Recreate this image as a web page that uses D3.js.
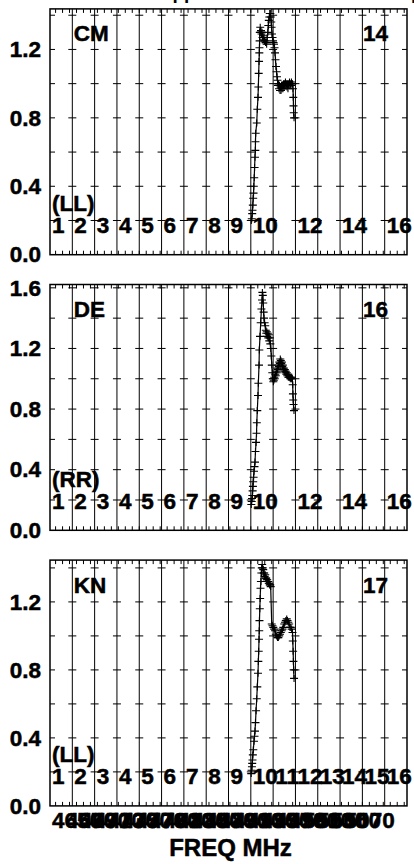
<!DOCTYPE html>
<html><head><meta charset="utf-8">
<script src="https://cdn.jsdelivr.net/npm/d3@7"></script>
<style>
html,body{margin:0;padding:0;background:#fff;overflow:hidden}
text{font-family:"Liberation Sans",Arial,Helvetica,sans-serif;font-weight:bold;fill:#000;stroke:#000;stroke-width:0.5px}
text.title{stroke:none}
</style>
</head><body><svg id="c" width="414" height="864"></svg>
<script>
// ---------------- data ----------------
const titleText = "Solutions applied to autocorrelation spectra";
const xAxisTitle = "FREQ MHz";
const panelNames = ["CM", "DE", "KN"];
const panelNumbers = ["14", "16", "17"];
const polarizations = ["(LL)", "(RR)", "(LL)"];
const ifStartMHz = 4612;
const ifWidthMHz = 32;
const ifCount = 16;
const freqTickLabels = [4650, 4670, 4690, 4710, 4730, 4750, 4770, 4790, 4810, 4830, 4850, 4870, 4890, 4910, 4930, 4950, 4970, 4990, 5010, 5030, 5050, 5070];
const yRanges = [1.437, 1.622, 1.446];
const yTickLabels = [[0, 0.4, 0.8, 1.2], [0, 0.4, 0.8, 1.2, 1.6], [0, 0.4, 0.8, 1.2]];
const ifLabels = [
  [1, 2, 3, 4, 5, 6, 7, 8, 9, 10, 12, 14, 16],
  [1, 2, 3, 4, 5, 6, 7, 8, 9, 10, 12, 14, 16],
  [1, 2, 3, 4, 5, 6, 7, 8, 9, 10, 11, 12, 13, 14, 15, 16]
];

const freqCM = [4900.7,4901.4,4902.0,4902.4,4902.9,4903.4,4903.9,4904.3,4904.9,4905.4,
  4906.0,4906.5,4906.7,4907.0,4908.5,4909.3,4910.3,4910.8,4911.3,4911.8,
  4912.2,4912.4,4912.6,4912.9,4913.5,4914.1,4914.6,4915.3,4916.1,4916.8,
  4917.5,4918.2,4918.9,4919.6,4920.4,4921.1,4921.8,4922.7,4923.5,4924.4,
  4925.1,4925.8,4926.5,4927.2,4928.0,4928.7,4929.3,4929.8,4930.4,4931.1,
  4931.8,4932.6,4933.3,4934.0,4934.7,4935.4,4936.1,4936.9,4937.6,4938.3,
  4939.0,4939.7,4940.4,4941.1,4941.9,4942.6,4943.3,4944.0,4944.7,4945.4,
  4946.1,4946.9,4947.6,4948.3,4949.0,4949.7,4950.4,4951.2,4951.9,4952.6,
  4953.3,4954.0,4954.7,4955.5,4956.2,4956.9,4957.6,4958.3,4959.0,4959.8,
  4960.5,4960.9,4961.2,4961.5,4962.0];
const ampCM = [0.20,0.21,0.24,0.26,0.29,0.33,0.36,0.40,0.45,0.51,
  0.57,0.61,0.66,0.71,0.77,0.85,0.92,0.98,1.06,1.13,
  1.18,1.21,1.25,1.30,1.33,1.30,1.31,1.29,1.30,1.27,
  1.28,1.26,1.27,1.25,1.25,1.24,1.24,1.23,1.27,1.30,
  1.34,1.37,1.39,1.41,1.41,1.39,1.36,1.33,1.29,1.27,
  1.25,1.24,1.23,1.21,1.18,1.14,1.10,1.07,1.04,1.02,
  0.99,1.00,0.97,0.99,0.96,0.98,0.96,0.99,0.97,0.99,
  0.97,1.00,0.98,1.00,0.99,1.01,0.99,1.00,0.98,1.00,
  0.97,1.00,0.99,1.01,0.99,1.00,0.99,1.01,1.00,1.00,
  0.97,0.92,0.87,0.83,0.80];

const freqDE = [4900.7,4901.3,4901.7,4902.2,4902.6,4903.0,4903.4,4904.0,4904.6,4905.3,
  4906.0,4906.7,4907.5,4908.2,4908.6,4909.3,4910.3,4910.8,4911.8,4912.2,
  4913.2,4914.2,4915.2,4916.1,4916.6,4917.2,4917.8,4918.4,4918.9,4919.8,
  4920.7,4921.5,4922.2,4922.9,4923.7,4924.4,4925.1,4925.8,4926.5,4927.2,
  4928.0,4928.7,4929.4,4930.1,4930.8,4931.5,4932.3,4933.0,4933.7,4934.4,
  4935.1,4935.8,4936.6,4937.3,4938.0,4938.7,4939.4,4940.2,4940.9,4941.6,
  4942.3,4943.0,4943.7,4944.5,4945.2,4945.9,4946.6,4947.3,4948.0,4948.8,
  4949.5,4950.2,4950.9,4951.6,4952.3,4953.1,4953.8,4954.5,4955.2,4955.9,
  4956.6,4957.4,4958.1,4958.8,4959.5,4960.1,4960.4,4960.8,4961.2,4961.9];
const ampDE = [0.17,0.19,0.21,0.23,0.26,0.29,0.32,0.35,0.39,0.42,
  0.45,0.52,0.58,0.64,0.71,0.79,0.89,0.97,1.09,1.19,
  1.28,1.37,1.46,1.52,1.57,1.55,1.50,1.44,1.40,1.37,
  1.35,1.32,1.30,1.31,1.28,1.30,1.27,1.29,1.25,1.27,
  1.23,1.20,1.15,1.09,1.04,1.00,0.98,0.99,1.01,1.00,
  1.03,1.02,1.05,1.04,1.07,1.06,1.09,1.08,1.11,1.10,
  1.13,1.12,1.10,1.11,1.08,1.09,1.06,1.07,1.05,1.06,
  1.04,1.05,1.03,1.04,1.02,1.03,1.01,1.02,1.01,1.01,
  1.00,1.01,1.00,1.01,1.00,0.96,0.90,0.86,0.83,0.79];

const freqKN = [4900.6,4901.1,4901.6,4902.0,4902.4,4902.9,4903.6,4904.6,4905.3,4906.0,
  4906.7,4907.5,4908.5,4909.3,4910.3,4910.8,4911.3,4911.8,4912.1,4912.4,
  4912.9,4913.4,4913.9,4914.5,4915.1,4915.7,4916.3,4917.1,4917.8,4918.5,
  4919.2,4919.9,4920.7,4921.4,4922.1,4922.8,4923.5,4924.2,4925.0,4925.7,
  4926.4,4927.1,4927.8,4928.5,
  4930.0,4931.1,4932.3,4933.6,4934.7,4935.9,4937.1,4938.3,4939.5,4940.7,
  4941.9,4943.0,4944.3,4945.4,4946.6,4947.9,4949.0,4950.2,4951.5,4952.6,
  4953.8,4955.0,4956.2,4957.4,4958.6,4959.8,4960.2,4960.7,4961.1,4961.5,
  4962.0];
const ampKN = [0.19,0.21,0.23,0.25,0.27,0.30,0.33,0.38,0.41,0.44,
  0.49,0.56,0.63,0.70,0.78,0.85,0.91,0.98,1.03,1.09,
  1.16,1.22,1.28,1.32,1.37,1.40,1.42,1.40,1.39,1.37,
  1.37,1.35,1.36,1.34,1.34,1.33,1.33,1.32,1.32,1.31,
  1.31,1.30,1.30,1.29,
  1.07,1.06,1.05,1.04,1.03,1.01,1.00,0.99,0.99,1.00,
  1.01,1.02,1.03,1.04,1.05,1.07,1.08,1.09,1.10,1.09,
  1.08,1.07,1.05,1.05,1.04,1.02,0.97,0.91,0.85,0.80,
  0.75];

const panelFreqs = [freqCM, freqDE, freqKN];
const panelAmps = [ampCM, ampDE, ampKN];

// ---------------- layout ----------------
const svg = d3.select("#c");
const left = 50, right = 407;
const panelTop0 = 8.9, panelStep = 275.6, panelH = 245.8;
const fontSize = 22.5;

const x = d3.scaleLinear()
  .domain([ifStartMHz, ifStartMHz + ifWidthMHz * ifCount])
  .range([left, right]);
const ifEdges = d3.range(ifCount + 1).map(k => ifStartMHz + k * ifWidthMHz);
const minorTicks = d3.range(ifStartMHz + 8, ifStartMHz + ifWidthMHz * ifCount, 10);

// clipped title (only descenders are visible at the top edge)
svg.append("text").attr("class", "title").attr("x", 70).attr("y", -1.5)
  .style("font-size", "19px").text(titleText);

panelNames.forEach((name, i) => {
  const top = panelTop0 + i * panelStep;
  const bottom = top + panelH;
  const y = d3.scaleLinear().domain([0, yRanges[i]]).range([bottom, top]);
  const g = svg.append("g");

  g.append("clipPath").attr("id", "clip" + i)
    .append("rect").attr("x", left).attr("y", top).attr("width", right - left).attr("height", panelH);

  // IF separator lines
  g.selectAll("line.grid").data(ifEdges.slice(1, -1)).join("line")
    .attr("x1", d => x(d)).attr("x2", d => x(d))
    .attr("y1", top).attr("y2", bottom)
    .attr("stroke", "#000").attr("stroke-width", 1);

  // horizontal dashes at every 0.2 on each separator
  const yDash = d3.range(0.2, yRanges[i], 0.2);
  ifEdges.forEach((e, k) => {
    const xe = x(e);
    const x1 = k === 0 ? xe : (k === ifCount ? xe - 5 : xe - 4);
    const x2 = k === 0 ? xe + 5 : (k === ifCount ? xe : xe + 4);
    g.selectAll(null).data(yDash).join("line")
      .attr("x1", x1).attr("x2", x2)
      .attr("y1", d => y(d)).attr("y2", d => y(d))
      .attr("stroke", "#000").attr("stroke-width", 1);
  });

  // minor frequency ticks on top and bottom
  g.selectAll("line.tt").data(minorTicks).join("line")
    .attr("x1", d => x(d)).attr("x2", d => x(d))
    .attr("y1", top).attr("y2", top + 4)
    .attr("stroke", "#000").attr("stroke-width", 1);
  g.selectAll("line.bt").data(minorTicks).join("line")
    .attr("x1", d => x(d)).attr("x2", d => x(d))
    .attr("y1", bottom).attr("y2", bottom - 4)
    .attr("stroke", "#000").attr("stroke-width", 1);

  // frame
  g.append("rect").attr("x", left).attr("y", top)
    .attr("width", right - left).attr("height", panelH)
    .attr("fill", "none").attr("stroke", "#000").attr("stroke-width", 1.5);

  // y axis labels
  const ay = g.append("g").attr("transform", `translate(${left},0)`)
    .call(d3.axisLeft(y).tickValues(yTickLabels[i]).tickFormat(d3.format(".1f")).tickSize(0).tickPadding(9));
  ay.select(".domain").remove();
  ay.selectAll("text").style("font-size", fontSize + "px")
    .style("font-family", '"Liberation Sans",Arial,sans-serif').style("font-weight", "bold")
    .style("stroke", "#000").style("stroke-width", "0.5px");

  // IF numbers
  g.selectAll("text.ifl").data(ifLabels[i]).join("text")
    .attr("x", d => x(ifEdges[d - 1]) + 2)
    .attr("y", bottom - 21.5)
    .style("font-size", fontSize + "px")
    .text(d => d);

  // polarization
  g.append("text").attr("x", left + 2).attr("y", bottom - 43.5)
    .style("font-size", fontSize + "px").text(polarizations[i]);

  // antenna name and number
  g.append("text").attr("x", x(ifEdges[1]) + 1.5).attr("y", top + 32.5)
    .style("font-size", fontSize + "px").text(name);
  g.append("text").attr("x", x(ifEdges[14]) + 0.5).attr("y", top + 32.5)
    .style("font-size", fontSize + "px").text(panelNumbers[i]);

  // data
  const pts = d3.zip(panelFreqs[i], panelAmps[i]);
  const dg = g.append("g").attr("clip-path", `url(#clip${i})`);
  dg.append("path").datum(pts)
    .attr("d", d3.line().x(d => x(d[0])).y(d => y(d[1])))
    .attr("fill", "none").attr("stroke", "#000").attr("stroke-width", 1.2);
  dg.selectAll("path.m").data(pts).join("path")
    .attr("transform", d => `translate(${x(d[0])},${y(d[1])})`)
    .attr("d", "M-4,0H4M0,-3.5V3.5")
    .attr("stroke", "#000").attr("stroke-width", 1.1).attr("fill", "none");

  if (i === panelNames.length - 1) {
    const ax = g.append("g").attr("transform", `translate(0,${bottom})`)
      .call(d3.axisBottom(x).tickValues(freqTickLabels).tickFormat(d3.format("d")).tickSize(0).tickPadding(6));
    ax.select(".domain").remove();
    ax.selectAll("text").style("font-size", fontSize + "px")
      .style("font-family", '"Liberation Sans",Arial,sans-serif').style("font-weight", "bold")
      .style("stroke", "#000").style("stroke-width", "0.5px");
    g.append("text").attr("x", (left + right) / 2 + 2).attr("y", bottom + 50)
      .attr("text-anchor", "middle").style("font-size", "24px").text(xAxisTitle);
  }
});
</script>
</body></html>
